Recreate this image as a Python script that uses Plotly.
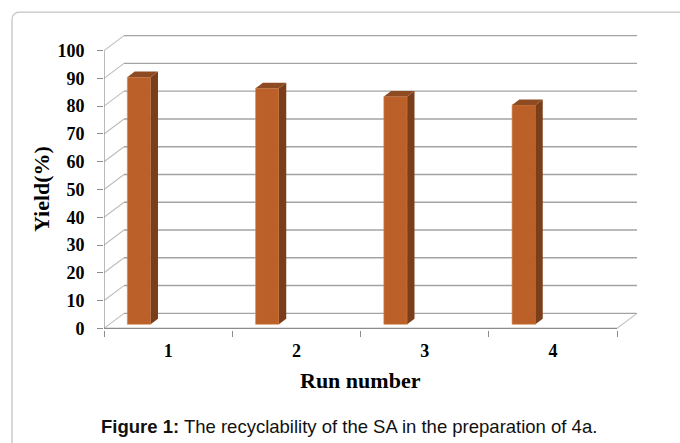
import plotly.graph_objects as go

# Data: catalyst recycling runs and product yield (%)
runs = [1, 2, 3, 4]
run_labels = ["1", "2", "3", "4"]
yields = [89, 85, 82, 79]
y_ticks = [0, 10, 20, 30, 40, 50, 60, 70, 80, 90, 100]

# Figure geometry (pixels)
W, H = 680, 443
L, R, T, B = 104, 40, 33.9, 113
PW, PH = W - L - R, H - T - B
X_RANGE = [0.5, 0.5 + PW / 128.25]
Y_RANGE = [-0.6, -0.6 + PH / 2.778]

# Pseudo-3D offsets in data units
WALL_DX, WALL_DY = 0.156, 5.4      # depth of the back wall
BAR_DX, BAR_DY = 0.057, 2.0        # depth of each bar
BAR_LIFT = 1.44                    # bars stand slightly behind the front edge
BAR_W, BAR_OFF = 0.182, -0.318

FRONT = "#BC6029"
SIDE = "#7A3E1B"
TOP = "#8E4A20"
GRID = "#A3A3A3"
DIAG = "#BDBDBD"
AXIS = "#8C8C8C"
SERIF = "Liberation Serif, Times New Roman, serif"
SANS = "Liberation Sans, Arial, sans-serif"

fig = go.Figure()
fig.add_trace(go.Bar(
    x=runs, y=yields, base=[BAR_LIFT] * len(runs),
    width=BAR_W, offset=BAR_OFF,
    marker=dict(color=FRONT, line=dict(color="#D58A55", width=0.6)),
    hoverinfo="skip", showlegend=False,
))

shapes = []
# back-wall gridlines and their diagonal links to the value axis
x_back0 = X_RANGE[0] + WALL_DX
x_back1 = 4.5 + WALL_DX
for v in y_ticks:
    shapes.append(dict(type="line", xref="x", yref="y", layer="below",
                       x0=x_back0, x1=x_back1, y0=v + WALL_DY, y1=v + WALL_DY,
                       line=dict(color=GRID, width=1.4)))
    shapes.append(dict(type="line", xref="x", yref="y", layer="below",
                       x0=0.5, x1=x_back0, y0=v, y1=v + WALL_DY,
                       line=dict(color=DIAG, width=1.1)))
# floor: front edge (category axis) and right-hand diagonal
shapes.append(dict(type="line", xref="x", yref="y", layer="below",
                   x0=0.5, x1=4.5, y0=0, y1=0,
                   line=dict(color=AXIS, width=1.2)))
shapes.append(dict(type="line", xref="x", yref="y", layer="below",
                   x0=4.5, x1=x_back1, y0=0, y1=WALL_DY,
                   line=dict(color=DIAG, width=1.1)))
# value axis line
shapes.append(dict(type="line", xref="x", yref="y", layer="below",
                   x0=0.5, x1=0.5, y0=0, y1=100,
                   line=dict(color=AXIS, width=1.2)))

# side and top faces of each bar
for xc, v in zip(runs, yields):
    x0 = xc + BAR_OFF
    x1 = x0 + BAR_W
    y0 = BAR_LIFT
    y1 = BAR_LIFT + v
    side = (f"M{x1},{y0} L{x1 + BAR_DX},{y0 + BAR_DY} "
            f"L{x1 + BAR_DX},{y1 + BAR_DY} L{x1},{y1} Z")
    top = (f"M{x0},{y1} L{x0 + BAR_DX},{y1 + BAR_DY} "
           f"L{x1 + BAR_DX},{y1 + BAR_DY} L{x1},{y1} Z")
    shapes.append(dict(type="path", xref="x", yref="y", path=side,
                       fillcolor=SIDE, line=dict(width=0)))
    shapes.append(dict(type="path", xref="x", yref="y", path=top,
                       fillcolor=TOP, line=dict(width=0)))


def px(xp):
    return (xp - L) / PW


def py(yp):
    return (H - B - yp) / PH


# rounded outer frame running off the right and bottom edges
r = 8
fx0, fy0 = px(12), py(12)
fx1, fy1 = px(W + 20), py(H + 20)
frame = (f"M{fx0},{fy1} L{fx0},{py(12 + r)} Q{fx0},{fy0} {px(12 + r)},{fy0} "
         f"L{fx1},{fy0}")
shapes.append(dict(type="path", xref="paper", yref="paper", path=frame,
                   line=dict(color="#C4C4C4", width=1.3)))

annotations = [
    dict(text="<b>Yield(%)</b>", xref="paper", yref="paper",
         x=px(41), y=py(189), textangle=-90, showarrow=False,
         font=dict(family=SERIF, size=22, color="black"),
         xanchor="center", yanchor="middle"),
    dict(text="<b>Run number</b>", xref="paper", yref="paper",
         x=px(360), y=py(381), showarrow=False,
         font=dict(family=SERIF, size=22, color="black"),
         xanchor="center", yanchor="middle"),
    dict(text="<b>Figure 1:</b> The recyclability of the SA in the preparation of 4a.",
         xref="paper", yref="paper", x=px(349), y=py(427), showarrow=False,
         font=dict(family=SANS, size=18.5, color="#111111"),
         xanchor="center", yanchor="middle"),
]

fig.update_layout(
    width=W, height=H,
    margin=dict(l=L, r=R, t=T, b=B, autoexpand=False),
    paper_bgcolor="white", plot_bgcolor="rgba(0,0,0,0)",
    shapes=shapes, annotations=annotations,
    showlegend=False,
    xaxis=dict(range=X_RANGE, showgrid=False, zeroline=False, showline=False,
               tickmode="array", tickvals=runs,
               ticktext=[f"<b>{t}</b>" for t in run_labels], ticks="",
               ticklabelstandoff=8,
               tickfont=dict(family=SERIF, size=18, color="black"),
               minor=dict(ticks="outside", tick0=0.5, dtick=1, ticklen=6,
                          tickcolor=AXIS, tickwidth=1.2, showgrid=False),
               fixedrange=True),
    yaxis=dict(range=Y_RANGE, showgrid=False, zeroline=False, showline=False,
               tickmode="array", tickvals=y_ticks,
               ticktext=[f"<b>{v}</b>" for v in y_ticks],
               ticks="outside", ticklen=6, tickcolor=AXIS, tickwidth=1.2,
               ticklabelstandoff=9,
               tickfont=dict(family=SERIF, size=18, color="black"),
               fixedrange=True),
)

fig.write_html("out.html")
